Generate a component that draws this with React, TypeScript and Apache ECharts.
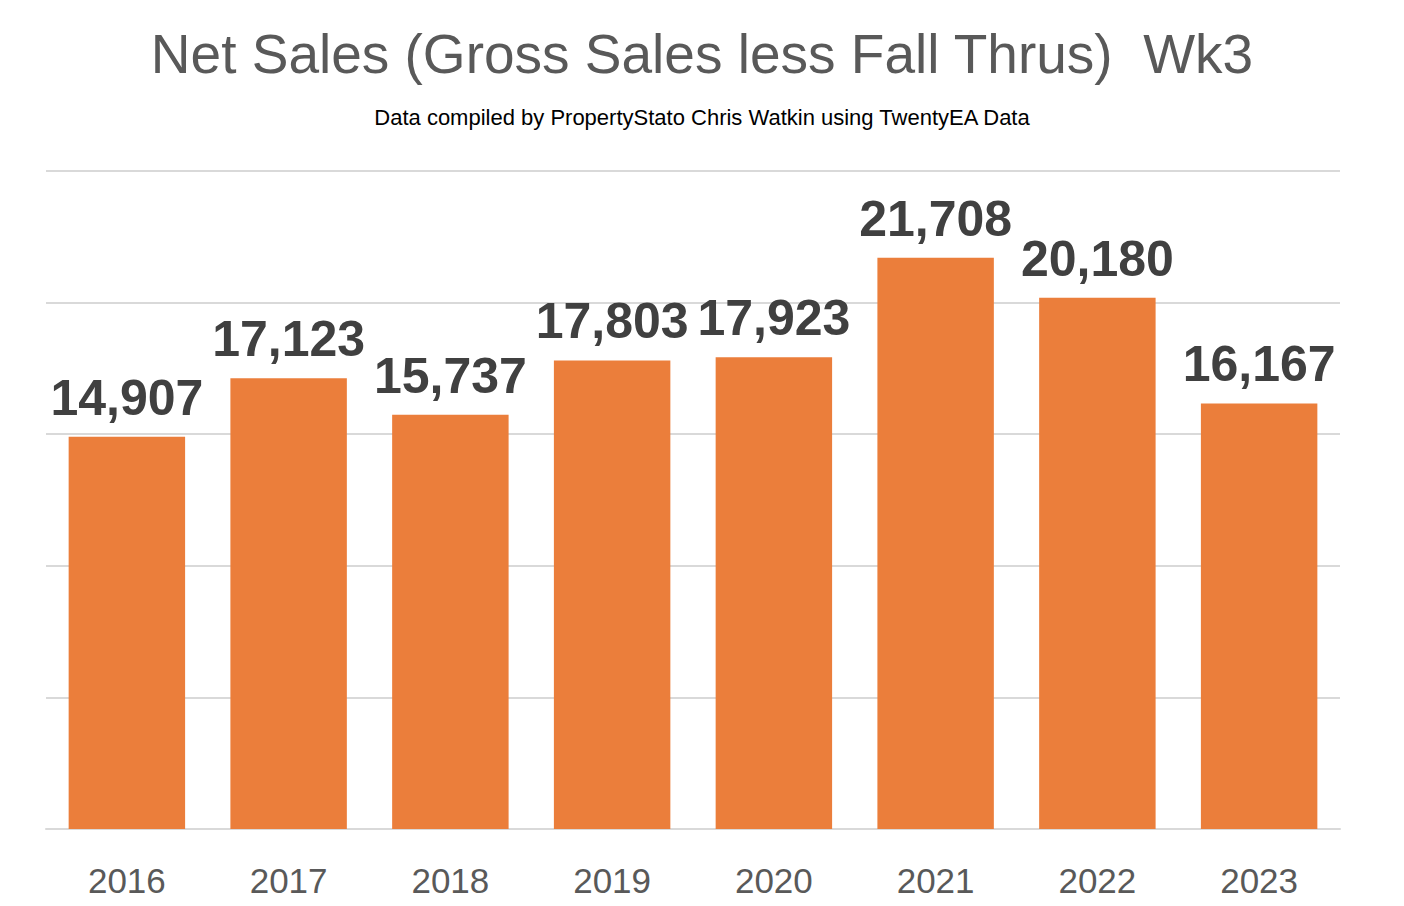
import React, { useEffect, useRef } from "react";
import * as echarts from "echarts";

const categories = ["2016", "2017", "2018", "2019", "2020", "2021", "2022", "2023"];
const netSales = [14907, 17123, 15737, 17803, 17923, 21708, 20180, 16167];
const titleText = "Net Sales (Gross Sales less Fall Thrus)  Wk3";
const subtitleText = "Data compiled by PropertyStato Chris Watkin using TwentyEA Data";

export default function App() {
  const ref = useRef<HTMLDivElement>(null);
  useEffect(() => {
    document.body.style.margin = "0";
    const chart = echarts.init(ref.current!, null, { renderer: "svg" });
    chart.setOption({
      animation: false,
      backgroundColor: "#ffffff",
      textStyle: { fontFamily: "Liberation Sans" },
      title: [
        {
          text: titleText,
          left: "center",
          top: 21,
          textStyle: { fontSize: 55, fontWeight: "normal", color: "#595959", fontFamily: "Liberation Sans" },
        },
        {
          text: subtitleText,
          left: "center",
          top: 101,
          textStyle: { fontSize: 22, fontWeight: "normal", color: "#000000", fontFamily: "Liberation Sans" },
        },
      ],
      grid: { left: 46, right: 64, top: 171, bottom: 77 },
      xAxis: {
        type: "category",
        data: categories,
        axisLine: { lineStyle: { color: "#d9d9d9", width: 2 } },
        axisTick: { show: false },
        axisLabel: { fontSize: 35, color: "#595959", margin: 34, fontFamily: "Liberation Sans" },
      },
      yAxis: {
        type: "value",
        min: 0,
        max: 25000,
        interval: 5000,
        axisLabel: { show: false },
        axisLine: { show: false },
        axisTick: { show: false },
        splitLine: { lineStyle: { color: "#d9d9d9", width: 2 } },
      },
      series: [
        {
          type: "bar",
          data: netSales,
          barCategoryGap: "28%",
          itemStyle: { color: "#EB7E3B" },
          label: {
            show: true,
            position: "top",
            distance: 14,
            fontSize: 50,
            fontWeight: "bold",
            color: "#404040",
            fontFamily: "Liberation Sans",
            formatter: (p: any) => Number(p.value).toLocaleString("en-US"),
          },
        },
      ],
    });
    return () => chart.dispose();
  }, []);
  return <div ref={ref} style={{ width: 1404, height: 906 }} />;
}
